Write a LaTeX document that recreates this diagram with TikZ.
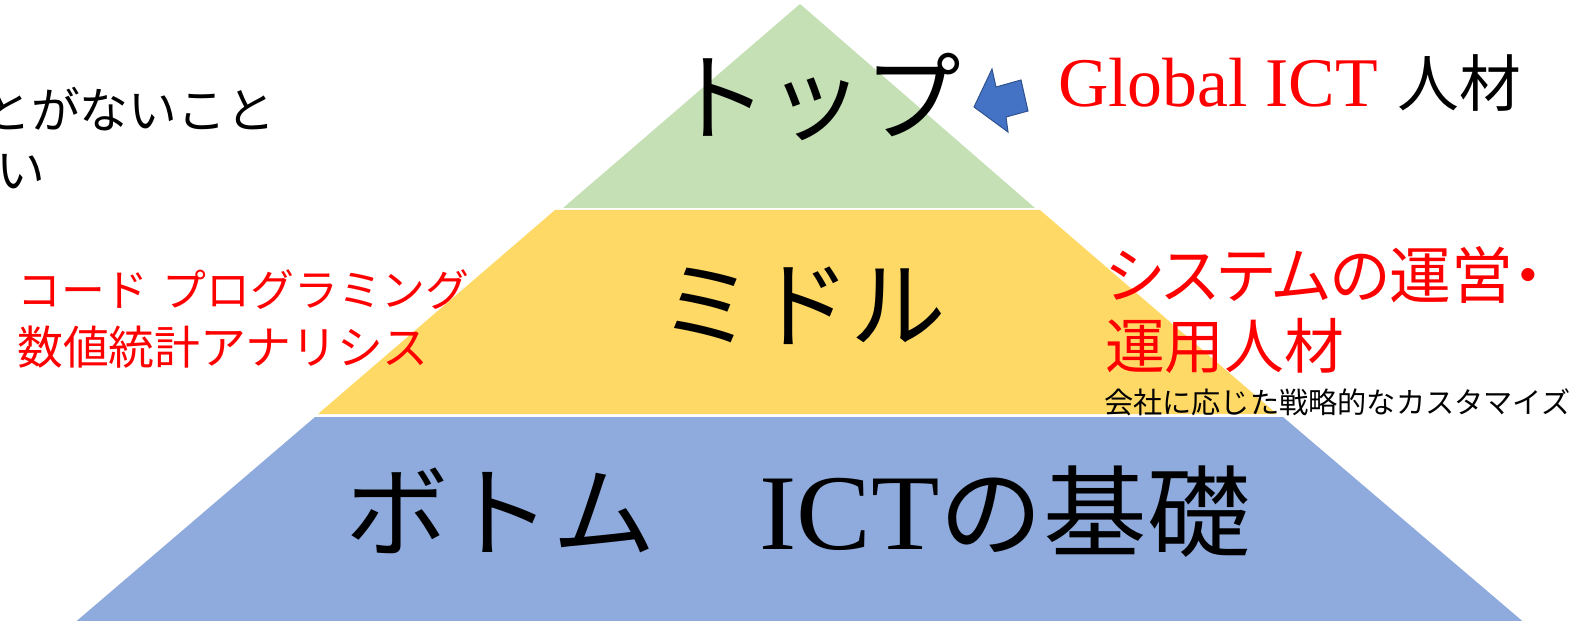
\documentclass[tikz,border=0pt]{standalone}
\usepackage{fontspec}
\setmainfont{Noto Sans CJK JP}
\newfontfamily\jpprop[RawFeature=+palt]{Noto Sans CJK JP}
\newfontfamily\latinserif{Liberation Serif}
\usetikzlibrary{positioning}

\definecolor{topgreen}{HTML}{C5E0B4}
\definecolor{midyellow}{HTML}{FFD966}
\definecolor{basblue}{HTML}{8FAADC}
\definecolor{arrowblue}{HTML}{4472C4}
\definecolor{arrowedge}{HTML}{2F528F}
\definecolor{ictred}{HTML}{FF0000}

\begin{document}
\begin{tikzpicture}[
  x=1bp, y=-1bp,
  tier/.style={inner sep=0pt},
  side/.style={inner sep=0pt, align=left},
  blockarrow/.style={fill=arrowblue, draw=arrowedge, line width=1pt, line join=miter}
]
\useasboundingbox (0,0) rectangle (1572,621);

% Pyramid layers
\fill[topgreen] (800,4) -- (1035,208) -- (563,208) -- cycle;
\fill[midyellow] (555,210) -- (1040,210) -- (1277,414) -- (318,414) -- cycle;
\fill[basblue] (315,417) -- (1283,417) -- (1527,625) -- (72,625) -- cycle;

% Layer titles
\node[tier, font=\fontsize{97}{100}\selectfont] (top) at (816,97) {トップ};
\node[tier, font=\fontsize{96}{100}\selectfont] (middle) at (803,306) {ミドル};
\node[tier, font=\fontsize{100}{110}\selectfont] (bottom) at (798,512)
  {\scalebox{1.04}[1]{ボトム　{\latinserif\fontsize{108}{110}\selectfont ICT}の基礎}};

% Arrow to the top layer
\draw[blockarrow] (974,107) -- (992,69) -- (996,87) -- (1021,80)
  -- (1028,111) -- (1006,117) -- (1008,132) -- cycle;
\node[tier, anchor=base west, font=\fontsize{62}{70}\selectfont] (global) at (1058,107)
  {{\latinserif\fontsize{70}{70}\selectfont\color{ictred}Global ICT}\hspace{6bp} 人材};

% Side notes
\node[side, anchor=west, text=ictred, font=\fontsize{44}{58}\selectfont] (skills) at (17,319)
  {コード\hspace{14bp}プログラミング\\{\fontsize{46}{58}\selectfont 数値統計アナリシス}};
\node[side, anchor=west, text=ictred, font=\jpprop\fontsize{60}{70}\selectfont] (ops) at (1105,310)
  {{\fontsize{62}{70}\selectfont システムの運営・}\\運用人材};
\node[side, anchor=west, font=\fontsize{29.3}{30}\selectfont] (custom) at (1104,402)
  {会社に応じた戦略的なカスタマイズ};
\node[side, anchor=west, font=\fontsize{49}{60}\selectfont] (clipped) at (-18,138)
  {とがないこと\\\hspace{14bp}い};

\end{tikzpicture}
\end{document}
